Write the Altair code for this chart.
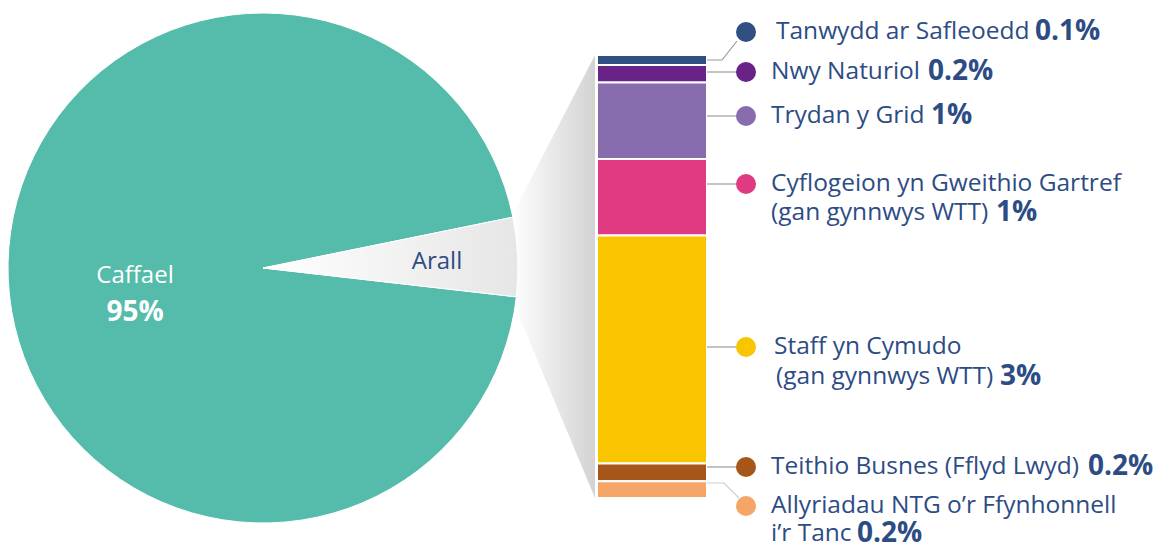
import math
import altair as alt
import pandas as pd

# ---------------- data ----------------
pie_cats = ["Caffael", "Arall"]
pie_vals = [95, 5]

bar_names = [
    "Tanwydd ar Safleoedd",
    "Nwy Naturiol",
    "Trydan y Grid",
    "Cyflogeion yn Gweithio Gartref (gan gynnwys WTT)",
    "Staff yn Cymudo (gan gynnwys WTT)",
    "Teithio Busnes (Fflyd Lwyd)",
    "Allyriadau NTG o’r Ffynhonnell i’r Tanc",
]
bar_vals = [0.13, 0.23, 1.0, 1.0, 2.98, 0.23, 0.22]
bar_pcts = ["0.1%", "0.2%", "1%", "1%", "3%", "0.2%", "0.2%"]
label_lines = [
    ["Tanwydd ar Safleoedd"],
    ["Nwy Naturiol"],
    ["Trydan y Grid"],
    ["Cyflogeion yn Gweithio Gartref", "(gan gynnwys WTT)"],
    ["Staff yn Cymudo", "(gan gynnwys WTT)"],
    ["Teithio Busnes (Fflyd Lwyd)"],
    ["Allyriadau NTG o’r Ffynhonnell", "i’r Tanc"],
]

# ---------------- styles / layout ----------------
W, H = 1151, 539
TEXT = "#2d4c84"
TEAL = "#55bbaa"
bar_colors = ["#2f4f82", "#692386", "#876dad", "#e03a82", "#f9c500", "#a65618", "#f5a567"]

CX, CY, R = 255, 260, 255
START = math.radians(96.5)          # where Caffael begins (clockwise from 12 o'clock)
BAR_X0, BAR_X1 = 589, 699
BAR_TOP, BAR_BOT = 47, 490

# label layout: (x of first line, y of first line, line gap, pct x)
label_layout = [
    (768, 24, 29, 1027),
    (763, 64, 29, 920),
    (763, 108, 29, 923),
    (763, 176, 29, 988),
    (766, 339, 30, 992),
    (763, 459, 29, 1080),
    (763, 498, 28, 849),
]
DOT_X = 738
leader_pts = [
    [(BAR_X1, 52), (714, 52), (729, 33)],
    [(BAR_X1, 64), (DOT_X, 64)],
    [(BAR_X1, 108), (DOT_X, 108)],
    [(BAR_X1, 176), (DOT_X, 176)],
    [(BAR_X1, 339), (DOT_X, 339)],
    [(BAR_X1, 459), (DOT_X, 459)],
    [(BAR_X1, 475), (716, 475), (731, 490)],
]
leader_colors = ["#9a9a9a", "#8a8a8a", "#8a8a8a", "#8a8a8a", "#8a8a8a", "#8a8a8a", "#cfcfcf"]

px = alt.Scale(domain=[0, W], range=[0, W], nice=False, zero=False)
py = alt.Scale(domain=[0, H], range=[0, H], nice=False, zero=False)

# ---------------- pie ----------------
pie_df = pd.DataFrame({"cat": pie_cats, "value": pie_vals, "idx": range(len(pie_cats))})
arall_grad = {
    "gradient": "linear", "x1": 0, "y1": 0, "x2": 1, "y2": 0,
    "stops": [{"offset": 0, "color": "#ffffff"}, {"offset": 1, "color": "#e6e6e6"}],
}
pie = alt.Chart(pie_df).mark_arc(radius=R, stroke="white", strokeWidth=1).encode(
    theta=alt.Theta("value:Q", stack=True,
                    scale=alt.Scale(range=[START, START + 2 * math.pi])),
    order=alt.Order("idx:Q"),
    fill=alt.condition("datum.cat == 'Caffael'", alt.value(TEAL), alt.value(arall_grad)),
    x=alt.value(CX), y=alt.value(CY),
)

# wedge connecting the "Arall" slice to the bar (derived from pie geometry)
tot = sum(pie_vals)
a0 = START + 2 * math.pi * pie_vals[0] / tot
a1 = START + 2 * math.pi
p0 = (CX + R * math.sin(a0), CY - R * math.cos(a0))
p1 = (CX + R * math.sin(a1), CY - R * math.cos(a1))
wedge_df = pd.DataFrame({
    "wx": [p0[0] - 2, BAR_X0 - 2],
    "wy": [p0[1], BAR_TOP],
    "wy2": [p1[1], BAR_BOT],
})
wedge_grad = {
    "gradient": "linear", "x1": 0, "y1": 0, "x2": 1, "y2": 0,
    "stops": [{"offset": 0, "color": "#ffffff"}, {"offset": 1, "color": "#d3d3d3"}],
}
wedge = alt.Chart(wedge_df).mark_area(fill=wedge_grad).encode(
    x=alt.X("wx:Q", scale=px, axis=None),
    y=alt.Y("wy:Q", scale=py, axis=None),
    y2="wy2:Q",
)

pie_text = pd.DataFrame({
    "t": ["Caffael", "95%", "Arall"],
    "x": [127, 127, 429],
    "y": [268, 305, 254],
    "c": ["white", "white", TEXT],
    "w": ["normal", "bold", "normal"],
    "s": [24, 28, 24],
})
pie_lbl_norm = alt.Chart(pie_text[pie_text.w == "normal"]).mark_text(
    font="Open Sans", baseline="middle", align="center"
).encode(
    x=alt.X("x:Q", scale=px, axis=None), y=alt.Y("y:Q", scale=py, axis=None),
    text="t:N", color=alt.Color("c:N", scale=None), size=alt.Size("s:Q", scale=None),
)
pie_lbl_bold = alt.Chart(pie_text[pie_text.w == "bold"]).mark_text(
    font="Open Sans", fontWeight="bold", baseline="middle", align="center"
).encode(
    x=alt.X("x:Q", scale=px, axis=None), y=alt.Y("y:Q", scale=py, axis=None),
    text="t:N", color=alt.Color("c:N", scale=None), size=alt.Size("s:Q", scale=None),
)

# ---------------- stacked bar ----------------
bar_df = pd.DataFrame({"name": bar_names, "value": bar_vals, "idx": range(len(bar_names))})
bar = alt.Chart(bar_df).transform_window(
    cum="sum(value)", sort=[alt.SortField("idx")], frame=[None, 0]
).transform_calculate(
    start="datum.cum - datum.value"
).mark_bar(stroke="white", strokeWidth=2).encode(
    x=alt.value(BAR_X0), x2=alt.value(BAR_X1),
    y=alt.Y("start:Q", axis=None,
            scale=alt.Scale(domain=[0, sum(bar_vals)], range=[BAR_TOP, BAR_BOT],
                            nice=False, zero=False)),
    y2="cum:Q",
    color=alt.Color("name:N", scale=alt.Scale(domain=bar_names, range=bar_colors), legend=None),
)

# ---------------- leader lines, dots, labels ----------------
lines_rows = []
for i, pts in enumerate(leader_pts):
    for j, (x, y) in enumerate(pts):
        lines_rows.append({"id": i, "o": j, "x": x, "y": y, "c": leader_colors[i]})
lines_df = pd.DataFrame(lines_rows)
leaders = alt.Chart(lines_df).mark_line(strokeWidth=1.2).encode(
    x=alt.X("x:Q", scale=px, axis=None), y=alt.Y("y:Q", scale=py, axis=None),
    detail="id:N", order="o:Q", color=alt.Color("c:N", scale=None),
)

dots_df = pd.DataFrame({
    "name": bar_names,
    "x": [DOT_X] * len(bar_names),
    "y": [lay[1] for lay in label_layout],
})
dots = alt.Chart(dots_df).mark_circle(size=400, opacity=1).encode(
    x=alt.X("x:Q", scale=px, axis=None), y=alt.Y("y:Q", scale=py, axis=None),
    color=alt.Color("name:N", scale=alt.Scale(domain=bar_names, range=bar_colors), legend=None),
)

name_rows, pct_rows = [], []
for i, lines in enumerate(label_lines):
    x0, y0, gap, pxp = label_layout[i]
    for k, ln in enumerate(lines):
        name_rows.append({"t": ln, "x": x0 + (2 if (i == 4 and k == 1) else 0), "y": y0 + k * gap})
    pct_rows.append({"t": bar_pcts[i], "x": pxp, "y": y0 + (len(lines) - 1) * gap})
names = alt.Chart(pd.DataFrame(name_rows)).mark_text(
    font="Open Sans", fontSize=24.5, color=TEXT, align="left", baseline="middle"
).encode(
    x=alt.X("x:Q", scale=px, axis=None), y=alt.Y("y:Q", scale=py, axis=None), text="t:N",
)
pcts = alt.Chart(pd.DataFrame(pct_rows)).mark_text(
    font="Open Sans", fontSize=28, fontWeight="bold", color=TEXT, align="left", baseline="middle"
).encode(
    x=alt.X("x:Q", scale=px, axis=None), y=alt.Y("y:Q", scale=py, axis=None), text="t:N",
)

chart = alt.layer(
    wedge, pie, pie_lbl_norm, pie_lbl_bold, bar, leaders, dots, names, pcts
).resolve_scale(
    x="independent", y="independent"
).properties(
    width=W, height=H, padding=0, autosize=alt.AutoSizeParams(type="none")
).configure_view(stroke=None)

chart.save("out.html", embed_options={"renderer": "svg", "actions": False})
